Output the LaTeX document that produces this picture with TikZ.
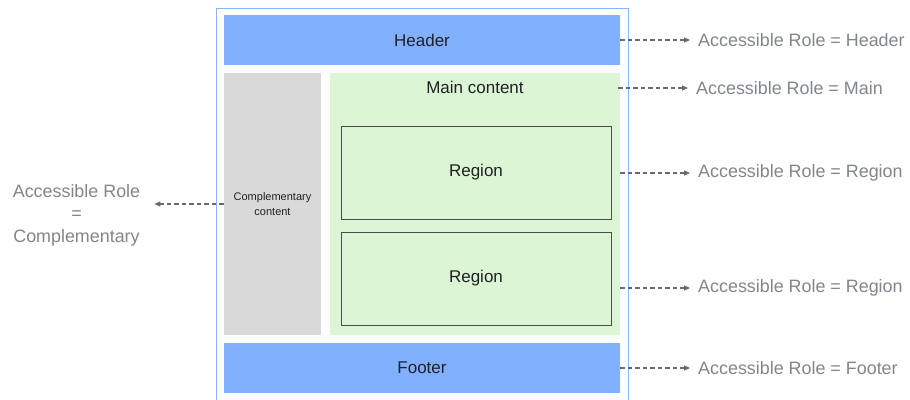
\documentclass[tikz,border=0pt]{standalone}
\usepackage{fontspec}
\setmainfont{Liberation Sans}
\usetikzlibrary{arrows.meta}
\definecolor{barblue}{HTML}{80B0FF}
\definecolor{maingreen}{HTML}{DBF5D5}
\definecolor{compgray}{HTML}{D9D9D9}
\definecolor{framblue}{HTML}{8AB4F8}
\definecolor{inktext}{HTML}{202124}
\definecolor{roletext}{HTML}{80868B}
\definecolor{arrowgray}{HTML}{6A6A6A}
\tikzset{
  block/.style={rectangle, inner sep=0pt, draw=none, text=inktext, font=\fontsize{17}{20}\selectfont},
  regionbox/.style={block, fill=maingreen, draw=black!70, line width=0.9pt},
  role/.style={inner sep=0pt, anchor=west, text=roletext, font=\fontsize{17.9}{22.5}\selectfont},
  rolearrow/.style={draw=arrowgray, line width=1.1pt, dash pattern=on 4.5pt off 3pt,
    -{Triangle[length=6pt,width=5pt]}, shorten >=8pt},
}
\begin{document}
\begin{tikzpicture}[x=1pt, y=-1pt]
  \useasboundingbox (0,0) rectangle (910,399);
  % page frame, open at the bottom
  \draw[framblue, line width=1pt] (216,405) -- (216,8) -- (628,8) -- (628,405);

  % layout blocks
  \node[block, fill=barblue, minimum width=396pt, minimum height=50pt] (header) at (422,40) {Header};
  \node[block, fill=compgray, minimum width=97pt, minimum height=262pt, align=center,
        font=\fontsize{11}{15}\selectfont] (comp) at (272.5,204) {Complementary\\content};
  \node[block, fill=maingreen, minimum width=290pt, minimum height=262pt] (main) at (475,204) {};
  \node[block] (maintitle) at (475,87) {Main content};
  \node[regionbox, minimum width=270pt, minimum height=93pt] (region1) at (476,172.5) {Region};
  \node[regionbox, minimum width=270pt, minimum height=93pt] (region2) at (476,278.5) {Region};
  \node[block, fill=barblue, minimum width=396pt, minimum height=50pt] (footer) at (422,368) {Footer};

  % accessible role labels
  \node[role] (rheader) at (698,40) {Accessible Role = Header};
  \node[role] (rmain) at (696,88) {Accessible Role = Main};
  \node[role] (rregion1) at (698,173) {Accessible Role = Region};
  \node[role] (rregion2) at (698,288) {Accessible Role = Region};
  \node[role] (rfooter) at (698,368) {Accessible Role = Footer};
  \node[role, anchor=center, align=center] (rcomp) at (76.5,215) {Accessible Role\\=\\Complementary};

  % connectors
  \draw[rolearrow] (header.east) -- (rheader.west);
  \draw[rolearrow] (main.east |- rmain.west) ++(-2,0) -- (rmain.west);
  \draw[rolearrow] (main.east |- rregion1.west) -- (rregion1.west);
  \draw[rolearrow] (main.east |- rregion2.west) -- (rregion2.west);
  \draw[rolearrow] (footer.east) -- (rfooter.west);
  \draw[rolearrow, shorten >=14pt] (comp.west) -- (rcomp.east |- comp.west);
\end{tikzpicture}
\end{document}
